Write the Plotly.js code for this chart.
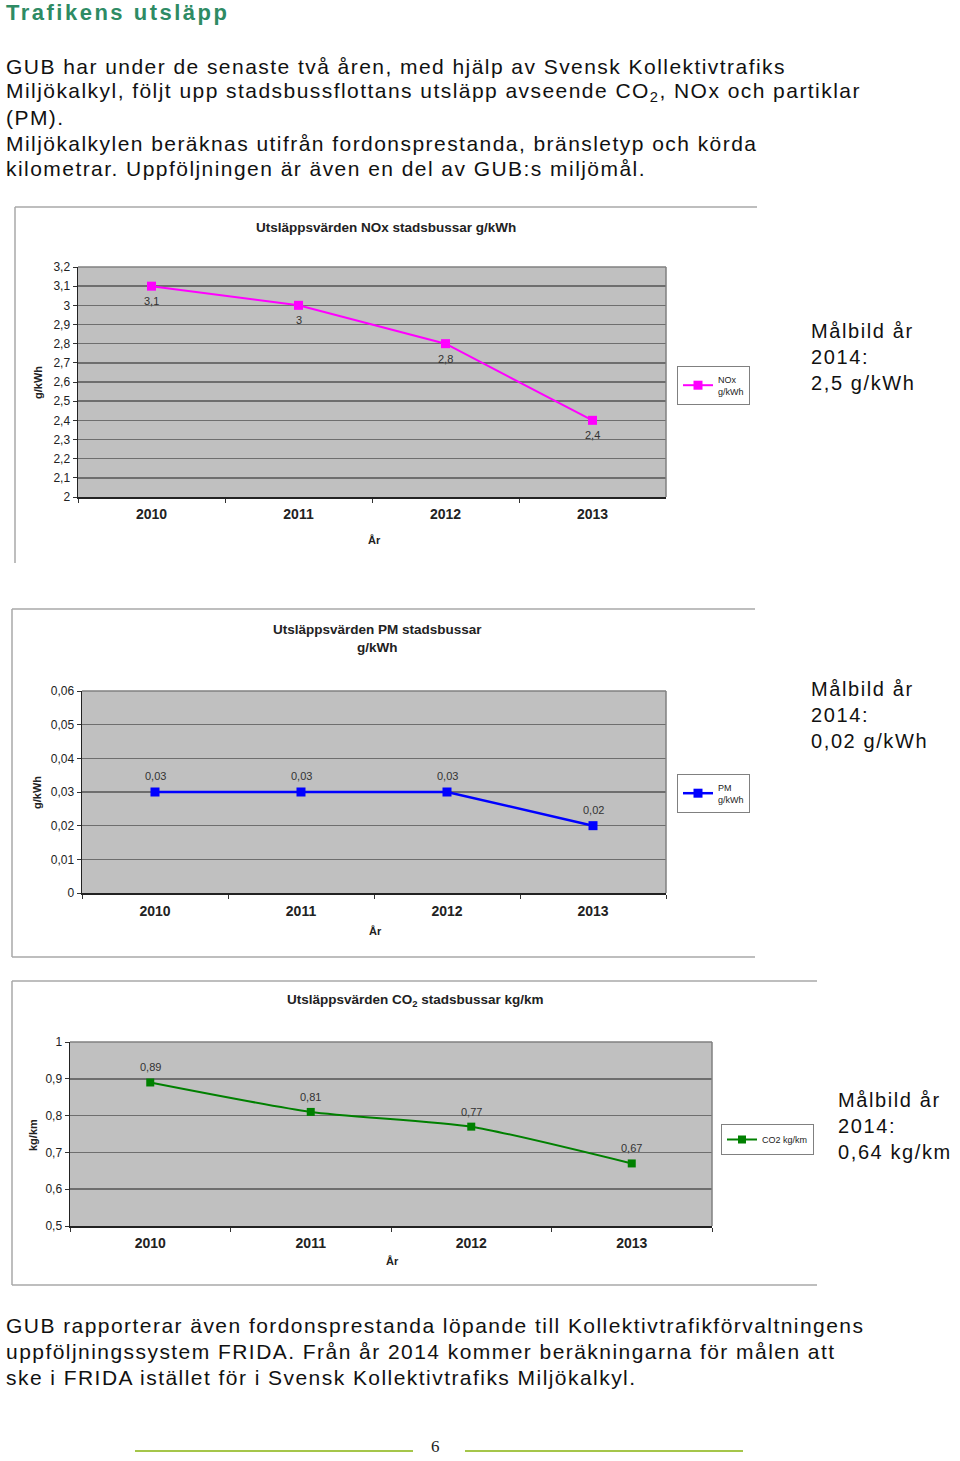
<!DOCTYPE html>
<html>
<head>
<meta charset="utf-8">
<script src="https://cdn.plot.ly/plotly-3.0.1.min.js"></script>
<style>
html,body{margin:0;padding:0;background:#fff;}
#page{width:960px;height:1461px;}
</style>
</head>
<body>
<div id="page"></div>
<script>
// ---------- data ----------
const years = ['2010', '2011', '2012', '2013'];

const noxValues = [3.1, 3.0, 2.8, 2.4];
const noxLabels = ['3,1', '3', '2,8', '2,4'];
const noxTickVals = [2, 2.1, 2.2, 2.3, 2.4, 2.5, 2.6, 2.7, 2.8, 2.9, 3, 3.1, 3.2];
const noxTickText = ['2', '2,1', '2,2', '2,3', '2,4', '2,5', '2,6', '2,7', '2,8', '2,9', '3', '3,1', '3,2'];

const pmValues = [0.03, 0.03, 0.03, 0.02];
const pmLabels = ['0,03', '0,03', '0,03', '0,02'];
const pmTickVals = [0, 0.01, 0.02, 0.03, 0.04, 0.05, 0.06];
const pmTickText = ['0', '0,01', '0,02', '0,03', '0,04', '0,05', '0,06'];

const co2Values = [0.89, 0.81, 0.77, 0.67];
const co2Labels = ['0,89', '0,81', '0,77', '0,67'];
const co2TickVals = [0.5, 0.6, 0.7, 0.8, 0.9, 1];
const co2TickText = ['0,5', '0,6', '0,7', '0,8', '0,9', '1'];

const heading = 'Trafikens utsläpp';
const introLines = [
  'GUB har under de senaste två åren, med hjälp av Svensk Kollektivtrafiks',
  'Miljökalkyl, följt upp stadsbussflottans utsläpp avseende CO<sub>2</sub>, NOx och partiklar',
  '(PM).',
  'Miljökalkylen beräknas utifrån fordonsprestanda, bränsletyp och körda',
  'kilometrar. Uppföljningen är även en del av GUB:s miljömål.'
];
const outroLines = [
  'GUB rapporterar även fordonsprestanda löpande till Kollektivtrafikförvaltningens',
  'uppföljningssystem FRIDA. Från år 2014 kommer beräkningarna för målen att',
  'ske i FRIDA istället för i Svensk Kollektivtrafiks Miljökalkyl.'
];
const targetNox = ['Målbild år', '2014:', '2,5 g/kWh'];
const targetPm = ['Målbild år', '2014:', '0,02 g/kWh'];
const targetCo2 = ['Målbild år', '2014:', '0,64 kg/km'];

// ---------- helpers ----------
const W = 960, H = 1461;
const px = x => x / W;
const py = y => 1 - y / H;
const FONT = 'Liberation Sans, Arial, sans-serif';

const annotations = [];
const spacing = [];
function txt(text, x, y, opts, ls) {
  const o = Object.assign({
    text: text, x: px(x), y: py(y), xref: 'paper', yref: 'paper',
    showarrow: false, xanchor: 'left', yanchor: 'middle',
    font: {family: FONT, size: 12, color: '#000'}
  }, opts || {});
  annotations.push(o);
  spacing.push(ls || 0);
}

// heading & body
txt(heading, 4, 12, {font: {family: FONT, size: 22, color: '#2e8b64', weight: 'bold'}}, 2.5);
const introY = [66, 92, 117, 143, 168];
introLines.forEach((l, i) => txt(l, 4, introY[i], {font: {family: FONT, size: 21, color: '#111'}}, 1.45));
const outroY = [1325, 1351, 1377];
outroLines.forEach((l, i) => txt(l, 4, outroY[i], {font: {family: FONT, size: 21, color: '#111'}}, 1.45));

// target texts
[[targetNox, 809, [331, 357, 383]], [targetPm, 809, [689, 715, 741]], [targetCo2, 836, [1100, 1126, 1152]]]
  .forEach(([lines, x, ys]) => lines.forEach((l, i) =>
    txt(l, x, ys[i], {font: {family: FONT, size: 20, color: '#111'}}, 1.6)));

// chart titles
const tfont = {family: FONT, size: 13.5, color: '#222', weight: 'bold'};
txt('Utsläppsvärden NOx stadsbussar g/kWh', 386, 228, {xanchor: 'center', font: tfont});
txt('Utsläppsvärden PM stadsbussar<br>g/kWh', 377, 638, {xanchor: 'center', font: tfont});
txt('Utsläppsvärden CO<sub>2</sub> stadsbussar kg/km', 415, 1000, {xanchor: 'center', font: tfont});

// axis titles
const afont = {family: FONT, size: 11, color: '#222', weight: 'bold'};
txt('År', 374, 540, {xanchor: 'center', font: afont});
txt('År', 375, 931, {xanchor: 'center', font: afont});
txt('År', 392, 1261, {xanchor: 'center', font: afont});
txt('g/kWh', 38, 383, {xanchor: 'center', textangle: -90, font: afont});
txt('g/kWh', 37, 793, {xanchor: 'center', textangle: -90, font: afont});
txt('kg/km', 33, 1135, {xanchor: 'center', textangle: -90, font: afont});

// page number
txt('6', 435, 1446, {xanchor: 'center', font: {family: 'Liberation Serif, serif', size: 17, color: '#222'}});

// data labels (placed through the data axes; x is the category index)
const lblFont = {family: FONT, size: 11, color: '#333'};
function dataLabels(vals, labels, ax, shift) {
  years.forEach((yr, i) => {
    annotations.push({x: i, y: vals[i], text: labels[i], xref: 'x' + ax, yref: 'y' + ax,
      showarrow: false, yshift: shift, xanchor: 'center', yanchor: 'middle', font: lblFont});
    spacing.push(0);
  });
}
dataLabels(noxValues, noxLabels, '', -15);
dataLabels(pmValues, pmLabels, '2', 16);
dataLabels(co2Values, co2Labels, '3', 15);

// ---------- shapes ----------
const shapes = [];
function line(x0, y0, x1, y1, color, width) {
  shapes.push({type: 'line', xref: 'paper', yref: 'paper', x0: px(x0), y0: py(y0), x1: px(x1), y1: py(y1),
    line: {color: color, width: width}});
}
const frameC = '#a8a8a8';
line(15, 207, 757, 207, frameC, 1.5); line(15, 207, 15, 563, frameC, 1.5);
line(12, 609, 755, 609, frameC, 1.5); line(12, 609, 12, 957, frameC, 1.5); line(12, 957, 755, 957, frameC, 1.5);
line(12, 981, 817, 981, frameC, 1.5); line(12, 981, 12, 1285, frameC, 1.5); line(12, 1285, 817, 1285, frameC, 1.5);
const plots = [[78, 666, 267, 497], [82, 666, 691, 893], [70, 712, 1042, 1226]];
plots.forEach(([l, r, t, b]) => { line(l, t, r, t, '#808080', 1.5); line(r, t, r, b, '#808080', 1.5); });
line(135, 1451, 413, 1451, '#a5c64a', 2);
line(465, 1451, 743, 1451, '#a5c64a', 2);

// ---------- axes ----------
function xax(i, standoff) {
  const [l, r] = plots[i];
  return {domain: [px(l), px(r)], anchor: 'y' + (i ? i + 1 : ''), type: 'category',
    categoryorder: 'array', categoryarray: years, range: [-0.5, 3.5],
    tickson: 'boundaries', ticks: 'outside', ticklen: 4, tickcolor: '#333', tickwidth: 1,
    ticklabelstandoff: standoff,
    showline: true, linecolor: '#222', linewidth: 1.5, showgrid: false, zeroline: false,
    tickfont: {family: FONT, size: 14, color: '#222', weight: 'bold'}, fixedrange: true};
}
function yax(i, range, vals, texts) {
  const [, , t, b] = plots[i];
  return {domain: [py(b), py(t)], anchor: 'x' + (i ? i + 1 : ''), range: range,
    tickmode: 'array', tickvals: vals, ticktext: texts,
    ticks: 'outside', ticklen: 4, tickcolor: '#333', tickwidth: 1,
    showline: true, linecolor: '#222', linewidth: 1.5,
    showgrid: true, gridcolor: '#6e6e6e', gridwidth: 1.5, zeroline: false,
    tickfont: {family: FONT, size: 12, color: '#222'}, fixedrange: true};
}

// ---------- traces ----------
const traces = [
  {x: years, y: noxValues, name: 'NOx<br>g/kWh', type: 'scatter', mode: 'lines+markers',
   line: {color: '#ff00ff', width: 2}, marker: {symbol: 'square', size: 9, color: '#ff00ff'},
   xaxis: 'x', yaxis: 'y', legend: 'legend', cliponaxis: false},
  {x: years, y: pmValues, name: 'PM<br>g/kWh', type: 'scatter', mode: 'lines+markers',
   line: {color: '#0000ff', width: 2.5}, marker: {symbol: 'square', size: 9, color: '#0000ff'},
   xaxis: 'x2', yaxis: 'y2', legend: 'legend2', cliponaxis: false},
  {x: years, y: co2Values, name: 'CO2 kg/km', type: 'scatter', mode: 'lines+markers',
   line: {color: '#008000', width: 2, shape: 'spline', smoothing: 0.6},
   marker: {symbol: 'square', size: 8, color: '#008000'},
   xaxis: 'x3', yaxis: 'y3', legend: 'legend3', cliponaxis: false}
];

function leg(x, y) {
  return {x: px(x), y: py(y), xanchor: 'left', yanchor: 'top', bgcolor: '#fff',
    bordercolor: '#808080', borderwidth: 1, font: {family: FONT, size: 9, color: '#222'},
    itemwidth: 30, tracegroupgap: 0, itemclick: false, itemdoubleclick: false};
}

const layout = {
  width: W, height: H, margin: {l: 0, r: 0, t: 0, b: 0},
  paper_bgcolor: '#fff', plot_bgcolor: '#c0c0c0',
  font: {family: FONT, size: 11, color: '#222'},
  showlegend: true,
  legend: leg(677, 366), legend2: leg(677, 774), legend3: leg(721, 1124),
  xaxis: xax(0, 4), yaxis: yax(0, [2, 3.2], noxTickVals, noxTickText),
  xaxis2: xax(1, 5), yaxis2: yax(1, [0, 0.06], pmTickVals, pmTickText),
  xaxis3: xax(2, 4), yaxis3: yax(2, [0.5, 1], co2TickVals, co2TickText),
  annotations: annotations, shapes: shapes
};

Plotly.newPlot('page', traces, layout, {staticPlot: true, displayModeBar: false}).then(() => {
  document.querySelectorAll('g.annotation').forEach(g => {
    const idx = +g.getAttribute('data-index');
    if (!spacing[idx]) return;
    g.querySelectorAll('text').forEach(t => {
      const before = t.getBBox();
      t.style.letterSpacing = spacing[idx] + 'px';
      const after = t.getBBox();
      const dx = before.x - after.x;
      const tr = t.getAttribute('transform') || '';
      t.setAttribute('transform', 'translate(' + dx + ',0) ' + tr);
    });
  });
});
</script>
</body>
</html>
